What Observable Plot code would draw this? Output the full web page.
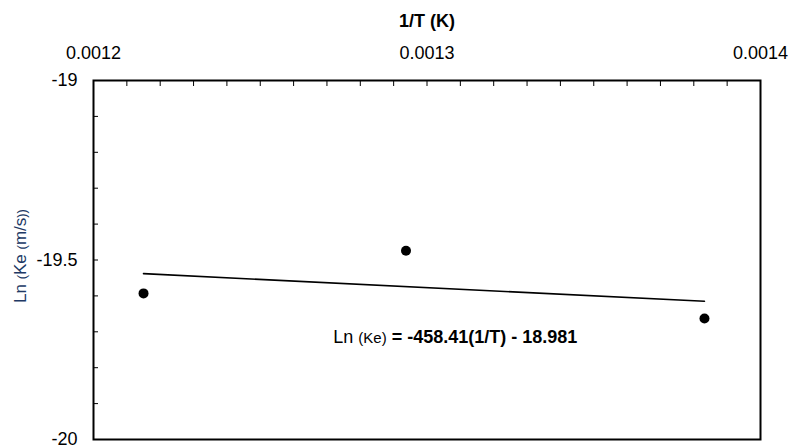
<!DOCTYPE html>
<html><head><meta charset="utf-8">
<script src="https://cdn.jsdelivr.net/npm/d3@7"></script>
<script src="https://cdn.jsdelivr.net/npm/@observablehq/plot@0.6"></script>
<style>body{margin:0;background:#fff}</style>
</head><body><div id="chart"></div>
<script>
// Data
const invT = [0.001215, 0.0012937, 0.0013832];
const lnKe = [-19.593, -19.474, -19.663];
const fitX = [0.001215, 0.0013832];
const fitY = [-19.538, -19.615];
const xMajor = [0.0012, 0.0013, 0.0014];
const xMajorLabels = ["0.0012", "0.0013", "0.0014"];
const yMajor = [-19, -19.5, -20];
const yMajorLabels = ["-19", "-19.5", "-20"];
const xMinor = d3.ticks(0.0012, 0.0014, 20);
const yMinor = d3.ticks(-20, -19, 10);
const eqX = [0.0012719];
const eqY = [-19.716];
const eqText = ["Ln (Ke) = -458.41(1/T) - 18.981"];
const xTitle = "1/T (K)";
const yTitle = "Ln (Ke (m/s))";

const points = invT.map((x, i) => ({x, y: lnKe[i]}));
const fit = fitX.map((x, i) => ({x, y: fitY[i]}));
const eq = eqX.map((x, i) => ({x, y: eqY[i], t: eqText[i]}));

const chart = Plot.plot({
  width: 791, height: 446,
  marginLeft: 93, marginRight: 31, marginTop: 80, marginBottom: 7,
  style: {fontFamily: "'Liberation Sans', Arial, sans-serif", fontSize: "18px", background: "white", color: "black"},
  x: {domain: [0.0012, 0.0014]},
  y: {domain: [-20, -19]},
  marks: [
    Plot.axisX(xMajor, {anchor: "top", tickSize: 0, tickPadding: 22, fontSize: 18,
      tickFormat: d => xMajorLabels[xMajor.indexOf(d)], label: null}),
    Plot.axisX(xMinor, {anchor: "top", tickSize: 5, insetTop: 5, tickFormat: () => "", label: null}),
    Plot.axisY(yMajor, {anchor: "left", tickSize: 0, tickPadding: 16, fontSize: 18,
      tickFormat: d => yMajorLabels[yMajor.indexOf(d)], label: null}),
    Plot.axisY(yMinor, {anchor: "left", tickSize: 5, insetLeft: 5, tickFormat: () => "", label: null}),
    Plot.frame({stroke: "black", strokeWidth: 2}),
    Plot.line(fit, {x: "x", y: "y", stroke: "black", strokeWidth: 1.6}),
    Plot.dot(points, {x: "x", y: "y", r: 5, fill: "black"}),
    Plot.text([xTitle], {frameAnchor: "top", dy: -59, lineAnchor: "middle", textAnchor: "middle", fontWeight: "bold", fontSize: 18}),
    Plot.text([yTitle], {frameAnchor: "left", dx: -73, dy: -4, rotate: -90, textAnchor: "middle", lineAnchor: "middle", fontSize: 17, fill: "#203864"}),
    Plot.text(eq, {x: "x", y: "y", text: "t", textAnchor: "start", fontSize: 18})
  ]
});
document.getElementById("chart").appendChild(chart);

// Mixed styling inside the equation and y label
const allText = Array.from(chart.querySelectorAll("text"));
const eqEl = allText.find(t => t.textContent === eqText[0]);
if (eqEl) {
  const t = d3.select(eqEl).text(null);
  t.append("tspan").text("Ln ");
  t.append("tspan").style("font-size", "15px").text("(Ke)");
  t.append("tspan").style("font-weight", "bold").text(" = -458.41(1/T) - 18.981");
}
const yEl = allText.find(t => t.textContent === yTitle);
if (yEl) {
  const t = d3.select(yEl).text(null);
  t.append("tspan").text("Ln ");
  t.append("tspan").style("font-size", "13px").text("(");
  t.append("tspan").text("Ke ");
  t.append("tspan").style("font-size", "13px").text("(");
  t.append("tspan").text("m/s");
  t.append("tspan").style("font-size", "13px").text("))");
}
</script></body></html>
